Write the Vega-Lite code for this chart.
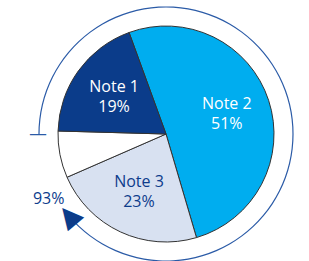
{
  "$schema": "https://vega.github.io/schema/vega-lite/v6.json",
  "width": 286,
  "height": 254,
  "autosize": "none",
  "padding": {"left": 23, "top": 7, "right": 0, "bottom": 0},
  "background": "white",
  "config": {"view": {"stroke": null}, "text": {"font": "Open Sans"}},
  "layer": [
    {
      "data": {"values": [
        {"name": "Note 2", "pct": 0.51, "order": 1},
        {"name": "Note 3", "pct": 0.23, "order": 2},
        {"name": "Other", "pct": 0.07, "order": 3},
        {"name": "Note 1", "pct": 0.19, "order": 4}
      ]},
      "encoding": {
        "theta": {"field": "pct", "type": "quantitative", "stack": true, "scale": {"range": [-0.349, 5.934]}},
        "order": {"field": "order", "type": "quantitative"},
        "detail": {"field": "name", "type": "nominal"}
      },
      "layer": [
        {
          "mark": {"type": "arc", "outerRadius": 108, "stroke": "#333333", "strokeWidth": 1},
          "encoding": {
            "color": {"field": "name", "type": "nominal", "scale": {"domain": ["Note 1", "Note 2", "Note 3", "Other"], "range": ["#0b3c8a", "#00adef", "#d8e1f1", "#ffffff"]}, "legend": null}
          }
        },
        {
          "mark": {"type": "text", "radius": 64, "dy": -10, "fontSize": 16, "baseline": "middle", "align": "center"},
          "encoding": {
            "text": {"condition": {"test": "datum.name === 'Other'", "value": ""}, "field": "name", "type": "nominal"},
            "color": {"condition": {"test": "datum.name === 'Note 3'", "value": "#0d3c8c"}, "value": "#ffffff"}
          }
        },
        {
          "mark": {"type": "text", "radius": 64, "dy": 10, "fontSize": 16, "baseline": "middle", "align": "center"},
          "encoding": {
            "text": {"condition": {"test": "datum.name === 'Other'", "value": ""}, "field": "pct", "type": "quantitative", "format": ".0%"},
            "color": {"condition": {"test": "datum.name === 'Note 3'", "value": "#0d3c8c"}, "value": "#ffffff"}
          }
        }
      ]
    },
    {
      "data": {"values": [{"label": "93%", "value": 93}]},
      "encoding": {
        "theta": {"field": "value", "type": "quantitative", "stack": null, "scale": {"domain": [0, 100], "range": [4.7124, 10.718]}}
      },
      "layer": [
        {
          "mark": {"type": "arc", "innerRadius": 126.4, "outerRadius": 127.6, "color": "#2b5ba7"},
          "encoding": {
            "theta2": {"datum": 0}
          }
        },
        {
          "mark": {"type": "text", "radius": 127, "dx": -1, "text": "—", "fontSize": 18, "angle": 0, "color": "#2b5ba7", "font": "DejaVu Sans", "baseline": "middle", "align": "center"},
          "encoding": {
            "theta": {"datum": 0, "type": "quantitative"}
          }
        },
        {
          "mark": {"type": "text", "radius": 127, "text": "▲", "fontSize": 28, "angle": 320, "color": "#0b3c8a", "font": "DejaVu Sans", "baseline": "middle", "align": "center"}
        },
        {
          "mark": {"type": "text", "radius": 127, "dx": -20, "dy": -17, "fontSize": 16, "color": "#0d3c8c", "baseline": "middle", "align": "center"},
          "encoding": {
            "text": {"field": "label", "type": "nominal"}
          }
        }
      ]
    }
  ],
  "resolve": {"scale": {"theta": "independent"}}
}
